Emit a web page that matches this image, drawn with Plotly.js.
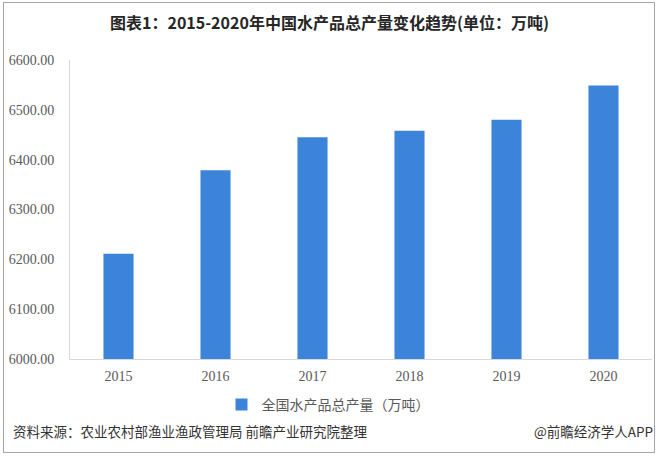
<!DOCTYPE html>
<html>
<head>
<meta charset="utf-8">
<script src="https://cdn.plot.ly/plotly-3.0.1.min.js"></script>
<style>
  html, body { margin: 0; padding: 0; background: #ffffff; }
  #wrap { position: relative; width: 659px; height: 458px; }
  #chart { width: 659px; height: 458px; }
  #frame { position: absolute; left: 3px; top: 2px; width: 650px; height: 449px;
           border: 1px solid #a6a6a6; pointer-events: none; }
</style>
</head>
<body>
<div id="wrap">
  <div id="chart"></div>
  <div id="frame"></div>
</div>
<script>
const years = ['2015', '2016', '2017', '2018', '2019', '2020'];
const output = [6211, 6379, 6445, 6458, 6480, 6549];
const seriesName = '全国水产品总产量（万吨）';
const titleText = '图表1：2015-2020年中国水产品总产量变化趋势(单位：万吨)';
const sourceText = '资料来源：农业农村部渔业渔政管理局 前瞻产业研究院整理';
const creditText = '@前瞻经济学人APP';
const yTicks = [6000, 6100, 6200, 6300, 6400, 6500, 6600];

const cjk = '"Noto Sans CJK SC", "Noto Sans", sans-serif';
const serif = '"Liberation Serif", "DejaVu Serif", serif';

const data = [{
  type: 'bar',
  x: years,
  y: output,
  name: seriesName,
  marker: { color: '#3c83da' },
  showlegend: true
}];

const layout = {
  width: 659,
  height: 458,
  margin: { l: 70, r: 7, t: 60, b: 99 },
  paper_bgcolor: '#ffffff',
  plot_bgcolor: '#ffffff',
  bargap: 0.69,
  title: {
    text: '<b>' + titleText + '</b>',
    font: { family: cjk, size: 16, color: '#262626' },
    x: 0.5, xref: 'container', xanchor: 'center',
    y: 1 - 23 / 458, yref: 'container', yanchor: 'middle'
  },
  xaxis: {
    type: 'category',
    showline: true, linecolor: '#d9d9d9', linewidth: 1,
    showgrid: false, zeroline: false,
    ticks: '',
    tickfont: { family: serif, size: 14, color: '#595959' },
    ticklabelstandoff: 4
  },
  yaxis: {
    range: [6000, 6600],
    tickvals: yTicks,
    tickformat: '.2f',
    showline: true, linecolor: '#d9d9d9', linewidth: 1,
    showgrid: false, zeroline: false,
    ticks: '',
    ticklabelstandoff: 12,
    tickfont: { family: serif, size: 14, color: '#595959' }
  },
  showlegend: true,
  legend: {
    orientation: 'h',
    x: (328 - 70) / 582, xanchor: 'center',
    y: (359 - 405) / 299, yanchor: 'middle',
    font: { family: cjk, size: 14, color: '#595959' },
    bgcolor: 'rgba(0,0,0,0)'
  },
  annotations: [
    {
      text: sourceText, showarrow: false,
      xref: 'paper', yref: 'paper',
      x: (11 - 70) / 582, xanchor: 'left',
      y: (359 - 431) / 299, yanchor: 'middle',
      font: { family: cjk, size: 13.5, color: '#333333' }
    },
    {
      text: creditText, showarrow: false,
      xref: 'paper', yref: 'paper',
      x: (655 - 70) / 582, xanchor: 'right',
      y: (359 - 431) / 299, yanchor: 'middle',
      font: { family: cjk, size: 13.5, color: '#333333' }
    }
  ]
};

Plotly.newPlot('chart', data, layout, { displayModeBar: false, staticPlot: true });
</script>
</body>
</html>
